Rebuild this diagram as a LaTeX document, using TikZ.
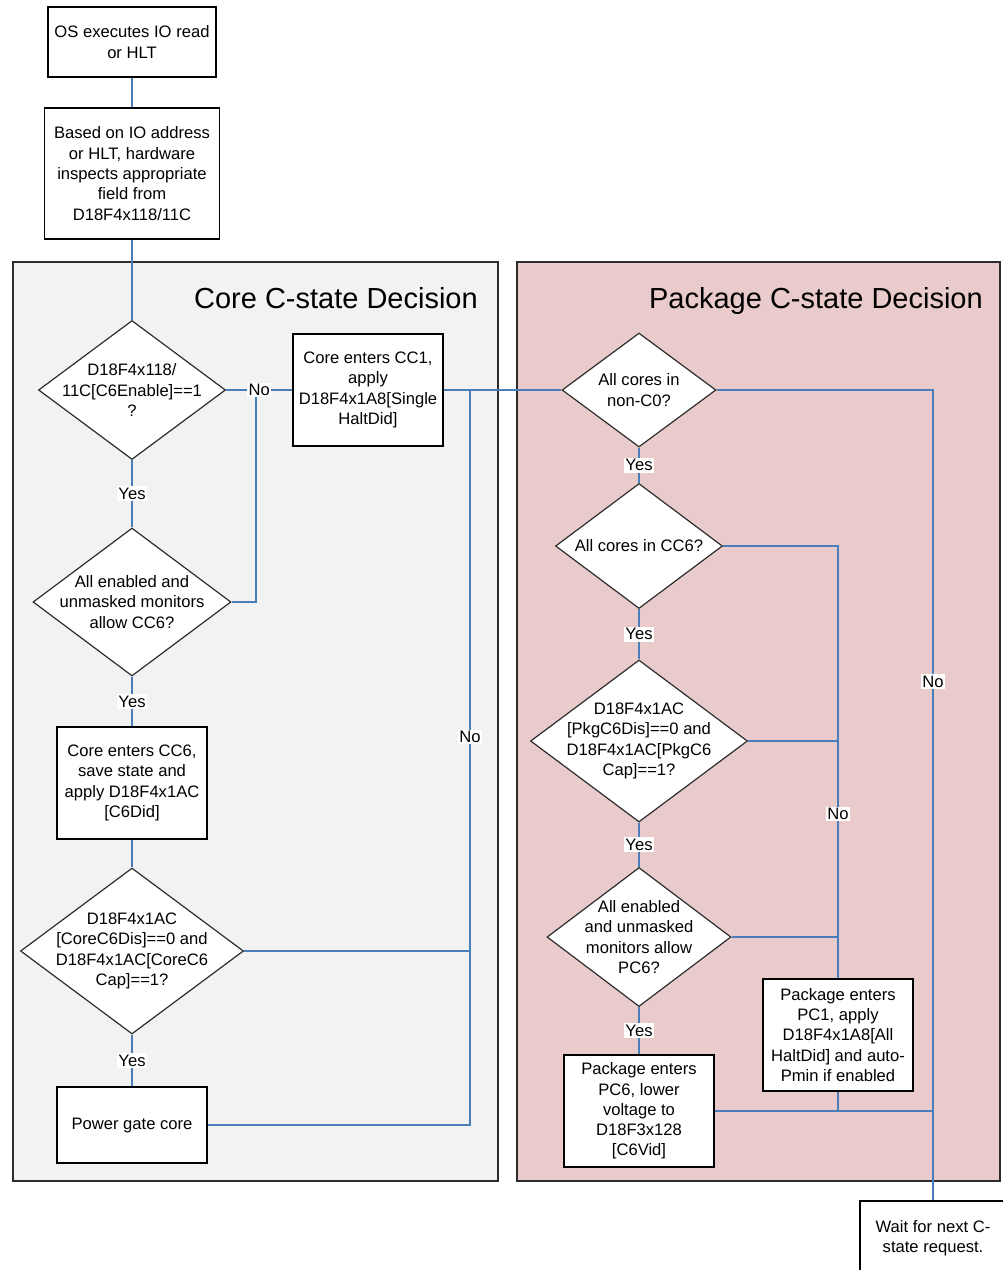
\documentclass[tikz,border=0pt]{standalone}
\usepackage{fontspec}
\setmainfont{Liberation Sans}
\usetikzlibrary{shapes.geometric,calc}
\definecolor{conn}{RGB}{74,126,187}
\definecolor{corebg}{RGB}{242,242,242}
\definecolor{pkgbg}{RGB}{234,203,203}
\definecolor{edgegray}{RGB}{45,45,45}
\begin{document}
\begin{tikzpicture}[x=1pt,y=-1pt,
  every node/.style={font=\fontsize{16.6}{20.3}\selectfont, align=center, text=black},
  box/.style={draw=black, line width=1.6pt, fill=white, inner sep=0pt},
  dia/.style={draw=edgegray, line width=1.2pt, fill=white, diamond, inner sep=0pt},
  lbl/.style={fill=white, inner sep=1.5pt},
  connline/.style={draw=conn, line width=1.3pt},
  panel/.style={draw=edgegray, line width=1.3pt},
  title/.style={font=\fontsize{29}{34}\selectfont, anchor=base east, inner sep=0pt}]
\useasboundingbox (0,0) rectangle (1003,1270);
\clip (0,0) rectangle (1003,1270);

% panels
\filldraw[panel, fill=corebg] (13,262) rectangle (498,1181);
\filldraw[panel, fill=pkgbg] (517,262) rectangle (1000,1181);
\node[title] (coretitle) at (478,308) {Core C-state Decision};
\node[title] (pkgtitle) at (983,308) {Package C-state Decision};

% top boxes
\node[box, minimum width=168, minimum height=70] (os) at (132,42) {OS executes IO read\\or HLT};
\node[box, minimum width=175, minimum height=131] (insp) at (132,173.5) {Based on IO address\\or HLT, hardware\\inspects appropriate\\field from\\D18F4x118/11C};

% core decision
\node[dia, minimum width=187, minimum height=139, label={center:{D18F4x118/\\11C[C6Enable]==1\\?}}] (d1) at (132,390) {};
\node[dia, minimum width=198, minimum height=148, label={center:{All enabled and\\unmasked monitors\\allow CC6?}}] (d2) at (132,602) {};
\node[box, minimum width=150, minimum height=112] (cc1) at (368,390) {Core enters CC1,\\apply\\D18F4x1A8[Single\\HaltDid]};
\node[box, minimum width=150, minimum height=112] (cc6) at (132,783) {Core enters CC6,\\save state and\\apply D18F4x1AC\\{}[C6Did]};
\node[dia, minimum width=223, minimum height=166, label={center:{D18F4x1AC\\{}[CoreC6Dis]==0 and\\D18F4x1AC[CoreC6\\Cap]==1?}}] (d3) at (132,951) {};
\node[box, minimum width=150, minimum height=76] (pg) at (132,1125) {Power gate core};

% package decision
\node[dia, minimum width=154, minimum height=114, label={center:{All cores in\\non-C0?}}] (pd1) at (639,390) {};
\node[dia, minimum width=167, minimum height=125, label={center:{All cores in CC6?}}] (pd2) at (639,546) {};
\node[dia, minimum width=217, minimum height=162, label={center:{D18F4x1AC\\{}[PkgC6Dis]==0 and\\D18F4x1AC[PkgC6\\Cap]==1?}}] (pd3) at (639,741) {};
\node[dia, minimum width=184, minimum height=139, label={center:{All enabled\\and unmasked\\monitors allow\\PC6?}}] (pd4) at (639,937) {};
\node[box, minimum width=150, minimum height=112] (pc6) at (639,1111) {Package enters\\PC6, lower\\voltage to\\D18F3x128\\{}[C6Vid]};
\node[box, minimum width=150, minimum height=112] (pc1) at (838,1035) {Package enters\\PC1, apply\\D18F4x1A8[All\\HaltDid] and auto-\\Pmin if enabled};
\node[box, minimum width=146, minimum height=74] (wait) at (933,1238) {Wait for next C-\\state request.};

% connectors core side
\draw[connline] (os) -- (insp);
\draw[connline] (insp) -- (d1);
\draw[connline] (d1) -- node[lbl]{Yes} (d2);
\draw[connline] (d2.east) -| (256,400) -- (256,390);
\draw[connline] (d1) -- node[lbl] (no1) {No} (cc1);
\draw[connline] (d2) -- node[lbl]{Yes} (cc6);
\draw[connline] (cc6) -- (d3);
\draw[connline] (d3) -- node[lbl]{Yes} (pg);
\draw[connline] (cc1) -- (pd1);
\coordinate (j2) at (470,390);
\draw[connline] (j2) |- node[lbl,pos=0.236]{No} (pg.east);
\draw[connline] (d3.east) -- (d3.east -| j2);

% connectors package side
\draw[connline] (pd1) -- node[lbl]{Yes} (pd2);
\draw[connline] (pd2) -- node[lbl]{Yes} (pd3);
\draw[connline] (pd3) -- node[lbl]{Yes} (pd4);
\draw[connline] (pd4) -- node[lbl]{Yes} (pc6);
\draw[connline] (pd1.east) -| node[lbl,pos=0.68]{No} (wait.north);
\draw[connline] (pd2.east) -| node[lbl,pos=0.81]{No} (pc1.north);
\draw[connline] (pd3.east) -- (pd3.east -| pc1.north);
\draw[connline] (pd4.east) -- (pd4.east -| pc1.north);
\draw[connline] (pc6.east) -- (pc6.east -| wait.north);
\draw[connline] (pc1.south) -- (pc1.south |- pc6.east);
\end{tikzpicture}
\end{document}
